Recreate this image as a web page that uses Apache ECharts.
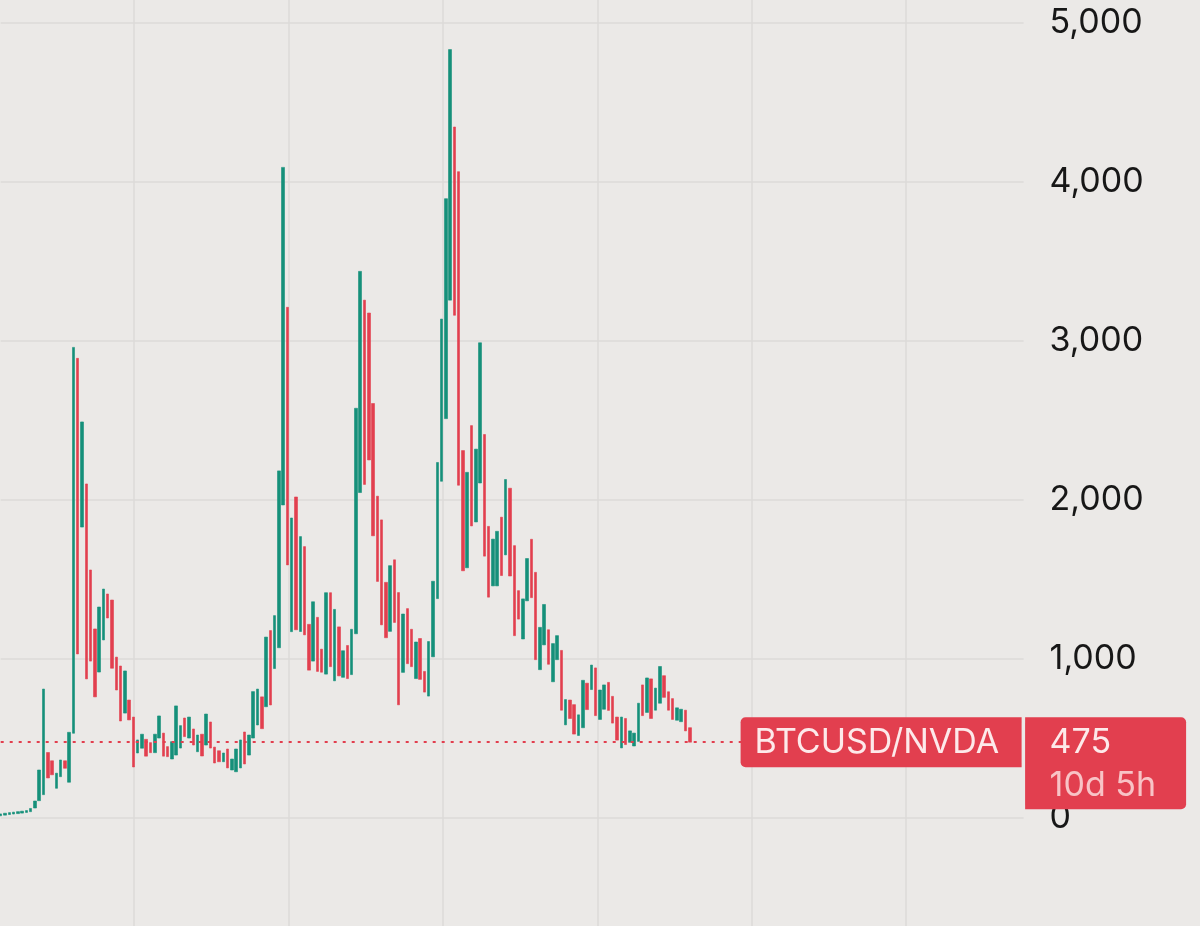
<!DOCTYPE html>
<html><head><meta charset="utf-8">
<script src="https://cdn.jsdelivr.net/npm/echarts@6/dist/echarts.min.js"></script>
<style>html,body{margin:0;padding:0;background:#ebe9e7}#c{width:1200px;height:926px}</style>
</head><body><div id="c"></div>
<script>
// ---- data ----
const barOpen = [
  12,16,20,23,26,29,33,38,61,107,
  145,410,358,185,258,358,223,531,2889,1828,
  2099,1558,1187,916,1118,1407,1369,1010,954,658,
  740,633,407,437,493,472,409,501,532,447,
  369,394,438,627,501,558,415,525,457,602,
  444,421,352,432,300,289,313,539,394,501,
  583,760,698,1177,938,1069,1967,3210,1170,2017,
  1171,1705,1216,985,1260,1060,903,1415,861,1200,
  883,1083,900,1157,2045,3255,3174,2605,2022,1873,
  1480,1172,1622,1416,914,1315,1185,875,1127,920,
  765,1012,1378,2116,2510,3255,4344,4063,2309,1572,
  2466,1860,2105,2410,1832,1458,1458,1890,1653,2072,
  1711,1428,1124,1364,1751,1543,931,1087,1182,855,
  994,1052,584,740,711,517,566,846,806,942,
  618,682,851,763,633,439,624,474,451,480,
  835,662,873,676,720,893,792,749,613,604,
  676,566
];
const barClose = [
  24,28,32,35,38,41,45,58,105,300,
  809,250,270,280,363,311,537,2958,1030,2489,
  873,985,760,1325,1438,1256,940,803,608,923,
  615,319,489,525,387,409,525,640,387,384,
  478,703,579,510,633,457,520,388,652,438,
  344,352,407,313,369,432,489,338,520,793,
  809,560,1136,709,1271,2181,4090,1590,1885,1182,
  1768,1150,928,1358,920,915,1415,950,1310,892,
  1050,875,1185,2575,3436,2096,2250,1773,1486,1213,
  1132,1585,1228,710,1281,969,950,1105,870,790,
  1108,1487,2234,3136,3893,4831,3160,2091,1553,2172,
  1835,2318,2987,1645,1387,1752,1801,1523,2127,1520,
  1145,1249,1376,1630,1384,994,1197,1341,965,1095,
  1145,676,743,624,526,647,864,680,960,642,
  803,835,675,595,488,633,460,546,532,720,
  642,879,624,815,951,757,676,618,691,682,
  546,475
];
const periodCount = 240; // visible bar slots incl. empty future space
const periods = Array.from({length: periodCount}, (_, i) => 'P' + (i + 1));
const priceMin = 0, priceMax = 5000, priceStep = 1000;
const symbolLabel = 'BTCUSD/NVDA';
const countdownLabel = '10d 5h';

// ---- styling ----
const UP = '#15907a', DOWN = '#e23f4f';
const BG = '#ebe9e7', GRIDC = '#dcdad8';
const FONT = 'Inter, "Noto Sans", sans-serif';

const candles = barOpen.map((o, i) => {
  const c = barClose[i];
  return [o, c, Math.min(o, c), Math.max(o, c)];
});
const lastClose = barClose[barClose.length - 1];

const gridLeft = 0.7, gridRight = 176.4, gridTop = 22.7, gridBottom = 108.3;
const vLineStart = 134.2, vLineStep = 154.4;
const plotRightX = 1200 - gridRight;
const chart = echarts.init(document.getElementById('c'), null, {renderer: 'canvas'});
chart.setOption({
  backgroundColor: BG,
  animation: false,
  grid: [
    {left: gridLeft, right: gridRight, top: gridTop, bottom: gridBottom},
    {left: vLineStart, right: gridRight, top: 0, bottom: 0}
  ],
  xAxis: [
    {type: 'category', data: periods, boundaryGap: false, gridIndex: 0,
     axisLine: {show: false}, axisTick: {show: false}, axisLabel: {show: false}, splitLine: {show: false}},
    {type: 'value', gridIndex: 1, min: 0, max: plotRightX - vLineStart, interval: vLineStep,
     axisLine: {show: false}, axisTick: {show: false}, axisLabel: {show: false},
     splitLine: {show: true, showMinLine: true, showMaxLine: false, lineStyle: {color: GRIDC, width: 1.5}}}
  ],
  yAxis: [
    {type: 'value', gridIndex: 0, position: 'right', min: priceMin, max: priceMax, interval: priceStep,
     axisLine: {show: false}, axisTick: {show: false},
     axisLabel: {margin: 26, color: '#171717', fontSize: 34, fontFamily: FONT,
                 formatter: v => v.toLocaleString('en-US')},
     splitLine: {show: true, lineStyle: {color: GRIDC, width: 1.5}}},
    {type: 'value', gridIndex: 1, show: false, min: 0, max: 1, splitLine: {show: false}}
  ],
  series: [{
    type: 'candlestick', xAxisIndex: 0, yAxisIndex: 0, data: candles, barWidth: 3,
    itemStyle: {color: UP, color0: DOWN, borderColor: UP, borderColor0: DOWN, borderWidth: 0.6},
    markLine: {silent: true, symbol: ['none', 'none'], label: {show: false},
               lineStyle: {color: DOWN, type: [3, 6], width: 2},
               data: [{yAxis: lastClose}]}
  }]
});

// price label boxes anchored to the last close value
const py = chart.convertToPixel({yAxisIndex: 0}, lastClose);
const b1x = plotRightX - 283, b1w = 281;
const b2x = plotRightX + 1.5, b2w = 161;
chart.setOption({
  graphic: [
    {type: 'rect', z: 100, shape: {x: b1x, y: py - 25, width: b1w, height: 50, r: [5, 0, 0, 5]}, style: {fill: DOWN}},
    {type: 'text', z: 101, style: {text: symbolLabel, x: b1x + 14, y: py + 1, fill: '#fde9ea', fontSize: 34, fontFamily: FONT, verticalAlign: 'middle', align: 'left'}},
    {type: 'rect', z: 100, shape: {x: b2x, y: py - 25, width: b2w, height: 92, r: [0, 5, 5, 0]}, style: {fill: DOWN}},
    {type: 'text', z: 101, style: {text: String(lastClose), x: plotRightX + 26, y: py + 1, fill: '#fde9ea', fontSize: 34, fontFamily: FONT, verticalAlign: 'middle', align: 'left'}},
    {type: 'text', z: 101, style: {text: countdownLabel, x: plotRightX + 26, y: py + 44, fill: '#f8c3c6', fontSize: 34, fontFamily: FONT, verticalAlign: 'middle', align: 'left'}}
  ]
});
</script></body></html>
